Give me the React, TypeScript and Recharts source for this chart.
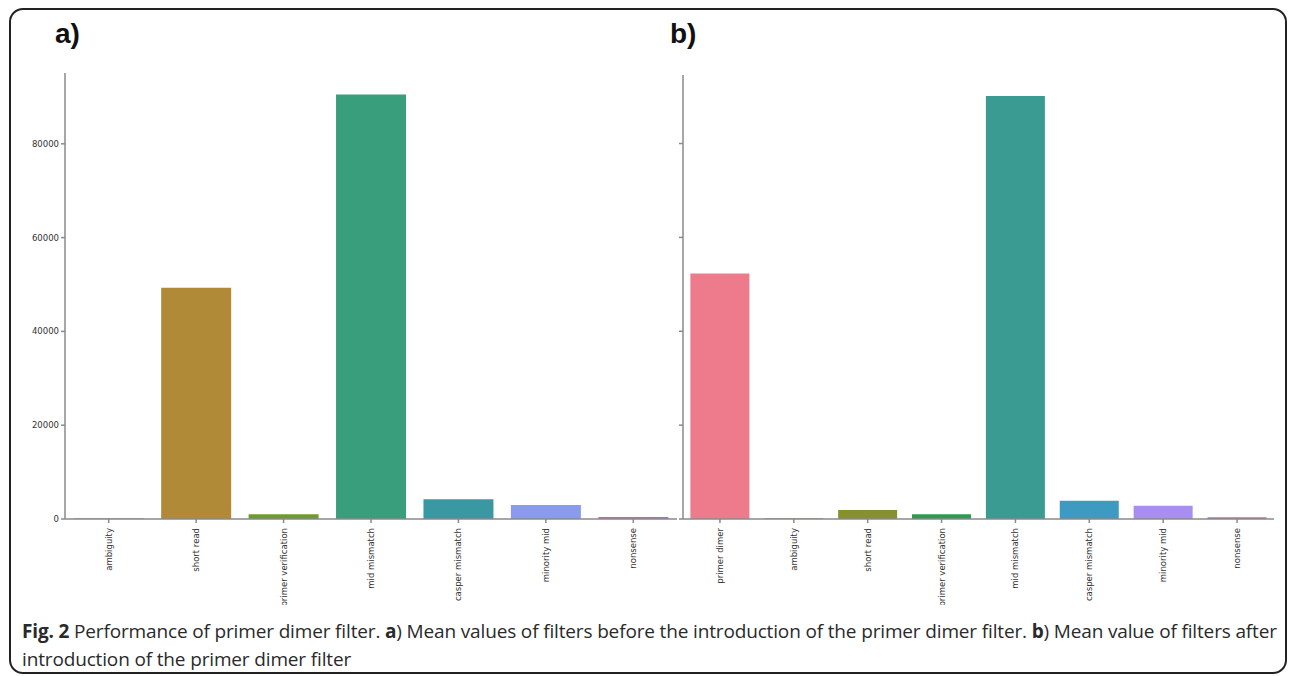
import { Bar, BarChart, Cell, XAxis, YAxis } from "recharts"

const beforeCategories = ["ambiguity", "short read", "primer verification", "mid mismatch", "casper mismatch", "minority mid", "nonsense"]
const beforeValues = [150, 49300, 1000, 90500, 4200, 3000, 450]
const beforeColors = ["#c4868d", "#b08a36", "#6e9a2e", "#389e7c", "#3a98a3", "#8a9bef", "#d05cd0"]

const afterCategories = ["primer dimer", "ambiguity", "short read", "primer verification", "mid mismatch", "casper mismatch", "minority mid", "nonsense"]
const afterValues = [52300, 150, 1900, 1000, 90100, 3900, 2800, 350]
const afterColors = ["#ee7b8b", "#9e8a5a", "#87902f", "#2e9a50", "#3a9b92", "#3d9bc2", "#a78ef0", "#c768b0"]

const yTicks = [0, 20000, 40000, 60000, 80000]

const AXIS = "#8a8a8a"
const TEXT = "#333"
const FONT = "'DejaVu Sans', sans-serif"

function RotTick({ x, y, payload }: { x?: number; y?: number; payload?: { value: string } }) {
  return (
    <text
      transform={`translate(${(x ?? 0) + 3},${(y ?? 0) + 3}) rotate(-90)`}
      textAnchor="end"
      fontSize={8.5}
      fontFamily={FONT}
      fill={TEXT}
    >
      {payload?.value}
    </text>
  )
}

function Panel({
  categories, values, colors, width, yWidth, top, domainMax, showLabels,
}: {
  categories: string[]; values: number[]; colors: string[]; width: number; yWidth: number
  top: number; domainMax: number; showLabels: boolean
}) {
  const data = categories.map((c, i) => ({ name: c, value: values[i] }))
  return (
    <BarChart
      width={width}
      height={545}
      data={data}
      margin={{ top, right: 3, left: 0, bottom: 6 }}
      barCategoryGap="10%"
    >
      <XAxis
        dataKey="name"
        interval={0}
        height={80}
        stroke={AXIS}
        strokeWidth={1.5}
        tickSize={4}
        tick={<RotTick />}
      />
      <YAxis
        width={yWidth}
        domain={[0, domainMax]}
        ticks={yTicks}
        allowDataOverflow
        stroke={AXIS}
        strokeWidth={1.5}
        tickSize={4}
        tick={{ fontSize: 8.5, fontFamily: FONT, fill: TEXT }}
        tickFormatter={(v: number) => (showLabels ? String(v) : "")}
      />
      <Bar dataKey="value" isAnimationActive={false}>
        {data.map((d, i) => (
          <Cell key={d.name} fill={colors[i]} />
        ))}
      </Bar>
    </BarChart>
  )
}

const panelLabel = {
  position: "absolute" as const,
  top: 18,
  fontFamily: "'Liberation Sans', Arial, sans-serif",
  fontWeight: 700,
  fontSize: 28,
  color: "#111",
}

export default function App() {
  return (
    <div style={{ position: "absolute", left: 0, top: 0, width: 1295, height: 676, background: "#fff", overflow: "hidden" }}>
      <div
        style={{
          position: "absolute", left: 9, top: 8, width: 1274, height: 662,
          border: "2px solid #222", borderRadius: 14, boxSizing: "content-box",
        }}
      />
      <div style={{ ...panelLabel, left: 55 }}>a)</div>
      <div style={{ ...panelLabel, left: 670 }}>b)</div>

      <div style={{ position: "absolute", left: 10, top: 60, overflow: "hidden", height: 545 }}>
        <Panel
          categories={beforeCategories}
          values={beforeValues}
          colors={beforeColors}
          width={670}
          yWidth={55}
          top={13}
          domainMax={95100}
          showLabels
        />
      </div>
      <div style={{ position: "absolute", left: 640, top: 60, overflow: "hidden", height: 545 }}>
        <Panel
          categories={afterCategories}
          values={afterValues}
          colors={afterColors}
          width={637}
          yWidth={43}
          top={15}
          domainMax={94600}
          showLabels={false}
        />
      </div>

      <div
        style={{
          position: "absolute", left: 22, top: 617, width: 1262,
          fontFamily: "'Open Sans', sans-serif", fontSize: 19, letterSpacing: -0.15,
          lineHeight: "28px", color: "#2a2a2a",
        }}
      >
        <span style={{ fontWeight: 700 }}>Fig. 2</span> Performance of primer dimer filter. <span style={{ fontWeight: 700 }}>a</span>) Mean values of filters before the introduction of the primer dimer filter. <span style={{ fontWeight: 700 }}>b</span>) Mean value of filters after introduction of the primer dimer filter
      </div>
    </div>
  )
}
